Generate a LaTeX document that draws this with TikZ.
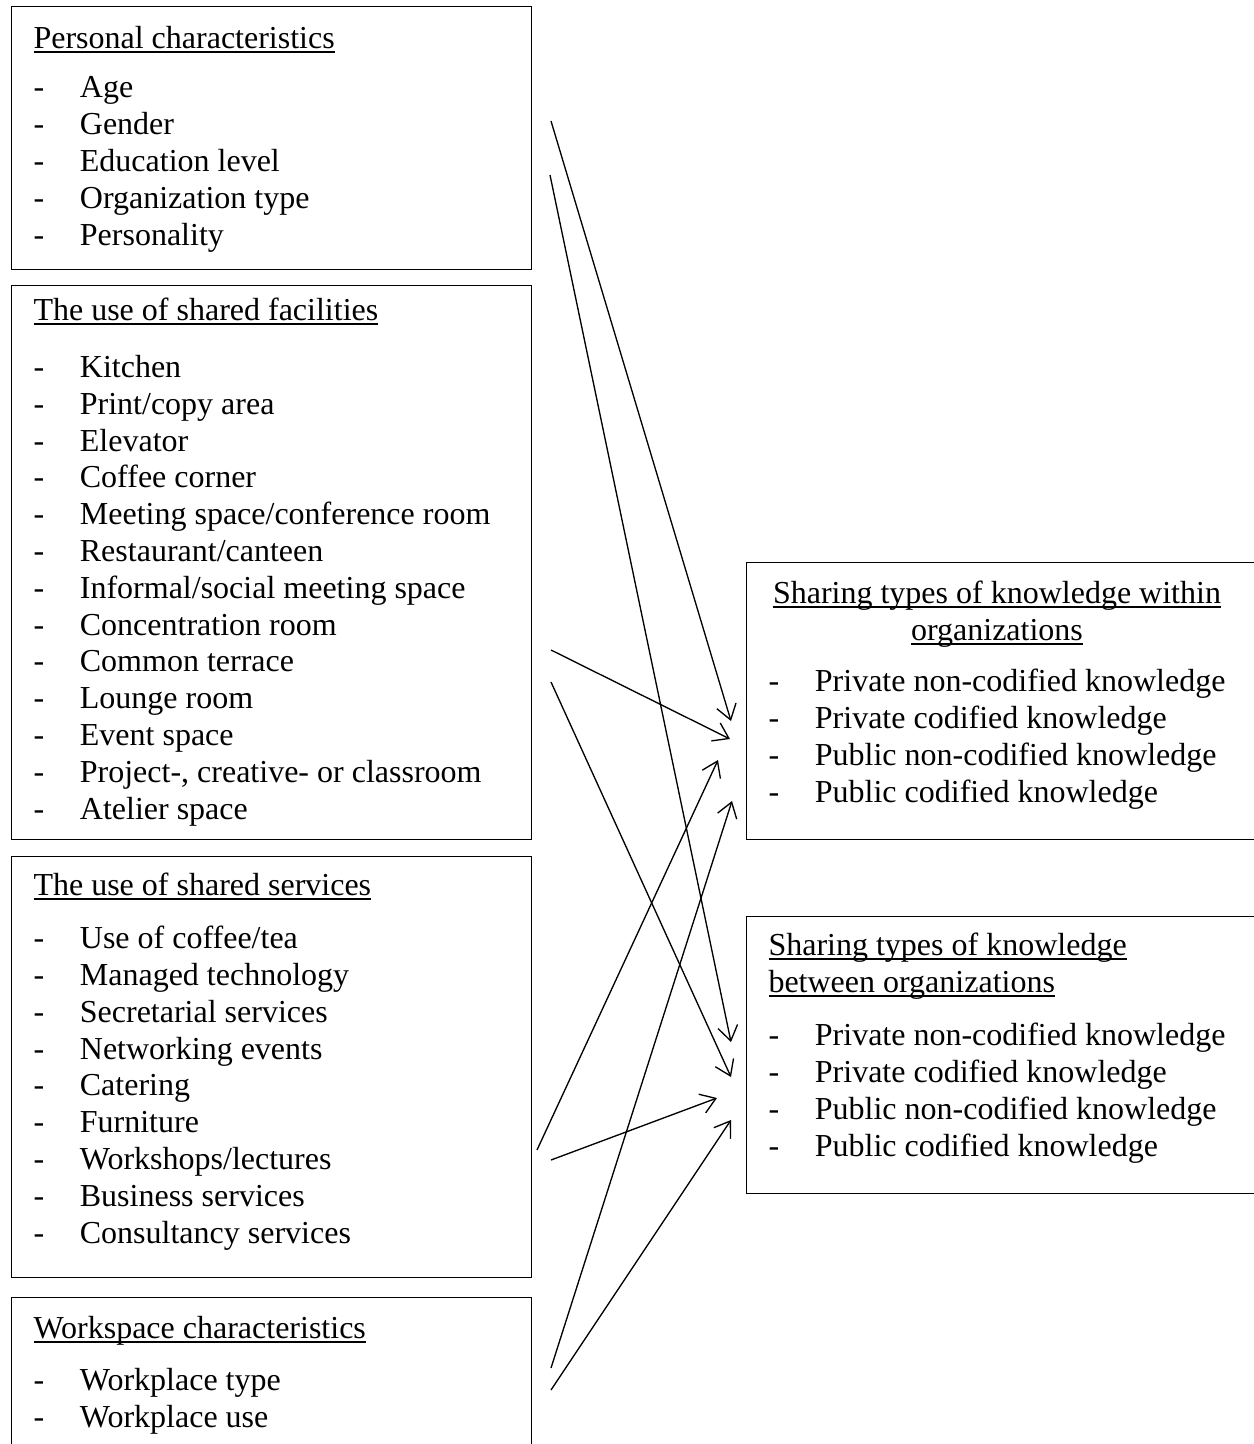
\documentclass[tikz,border=0pt]{standalone}
\usepackage{fontspec}
\setmainfont{Liberation Serif}
\usetikzlibrary{arrows.meta}

\newcommand{\undl}[1]{\setbox0\hbox{#1}\rlap{\rule[-1.7pt]{\wd0}{0.6pt}}\box0}
\newcommand{\itm}[1]{\makebox[17.4pt][l]{-}#1}

\tikzset{
	box/.style 2 args={draw, line width=0.55pt, anchor=north west, inner sep=0pt, minimum width=#1*0.375pt, minimum height=#2*0.375pt},
	hd/.style={anchor=base west, inner sep=0pt, align=left, font=\fontsize{12pt}{13.8pt}\selectfont},
	lst/.style={hd},
	arr/.style={line width=0.5pt, -{Straight Barb[length=5.5pt, width=7.5pt]}}
}

\begin{document}
\begin{tikzpicture}[x=0.375pt, y=-0.375pt]
	\path[use as bounding box] (0,0) rectangle (1254,1444);
	\clip (0,0) rectangle (1254,1444);

	% left column (text nodes sit on the baseline of their last line)
	\node[box={520}{263}] (pers) at (11,6) {};
	\node[hd] (persh) at (33,48) {\undl{Personal characteristics}};
	\node[lst] (persl) at (33,245) {\itm{Age}\\ \itm{Gender}\\ \itm{Education level}\\ \itm{Organization type}\\ \itm{Personality}};

	\node[box={520}{554}] (fac) at (11,285) {};
	\node[hd] (fach) at (33,320) {\undl{The use of shared facilities}};
	\node[lst] (facl) at (33,819) {\itm{Kitchen}\\ \itm{Print/copy area}\\ \itm{Elevator}\\ \itm{Coffee corner}\\ \itm{Meeting space/conference room}\\ \itm{Restaurant/canteen}\\ \itm{Informal/social meeting space}\\ \itm{Concentration room}\\ \itm{Common terrace}\\ \itm{Lounge room}\\ \itm{Event space}\\ \itm{Project-, creative- or classroom}\\ \itm{Atelier space}};

	\node[box={520}{421}] (serv) at (11,856) {};
	\node[hd] (servh) at (33,895) {\undl{The use of shared services}};
	\node[lst] (servl) at (33,1243) {\itm{Use of coffee/tea}\\ \itm{Managed technology}\\ \itm{Secretarial services}\\ \itm{Networking events}\\ \itm{Catering}\\ \itm{Furniture}\\ \itm{Workshops/lectures}\\ \itm{Business services}\\ \itm{Consultancy services}};

	\node[box={520}{220}] (work) at (11,1297) {};
	\node[hd] (workh) at (33,1338) {\undl{Workspace characteristics}};
	\node[lst] (workl) at (33,1427) {\itm{Workplace type}\\ \itm{Workplace use}};

	% right column
	\node[box={520}{277}] (within) at (746,562) {};
	\node[hd, anchor=base, align=center] (withinh) at (997,640) {\undl{Sharing types of knowledge within}\\ \undl{organizations}};
	\node[lst] (withinl) at (768,802) {\itm{Private non-codified knowledge}\\ \itm{Private codified knowledge}\\ \itm{Public non-codified knowledge}\\ \itm{Public codified knowledge}};

	\node[box={520}{277}] (between) at (746,916) {};
	\node[hd] (betweenh) at (768,992) {\undl{Sharing types of knowledge}\\ \undl{between organizations}};
	\node[lst] (betweenl) at (768,1156) {\itm{Private non-codified knowledge}\\ \itm{Private codified knowledge}\\ \itm{Public non-codified knowledge}\\ \itm{Public codified knowledge}};

	% arrows
	\coordinate (pers1) at (551,121);
	\coordinate (pers2) at (550,175);
	\coordinate (fac1) at (551,650);
	\coordinate (fac2) at (551,682);
	\coordinate (serv1) at (537,1150);
	\coordinate (serv2) at (551,1160);
	\coordinate (work1) at (551,1368);
	\coordinate (work2) at (551,1390);
	\coordinate (within1) at (731,721);
	\coordinate (within2) at (730,739);
	\coordinate (within3) at (718,760);
	\coordinate (within4) at (732,801);
	\coordinate (between1) at (731,1042);
	\coordinate (between2) at (731,1077);
	\coordinate (between3) at (717,1098);
	\coordinate (between4) at (731,1120);
	\draw[arr] (pers1) -- (within1);
	\draw[arr] (pers2) -- (between1);
	\draw[arr] (fac1) -- (within2);
	\draw[arr] (fac2) -- (between2);
	\draw[arr] (serv1) -- (within3);
	\draw[arr] (serv2) -- (between3);
	\draw[arr] (work1) -- (within4);
	\draw[arr] (work2) -- (between4);
\end{tikzpicture}
\end{document}
